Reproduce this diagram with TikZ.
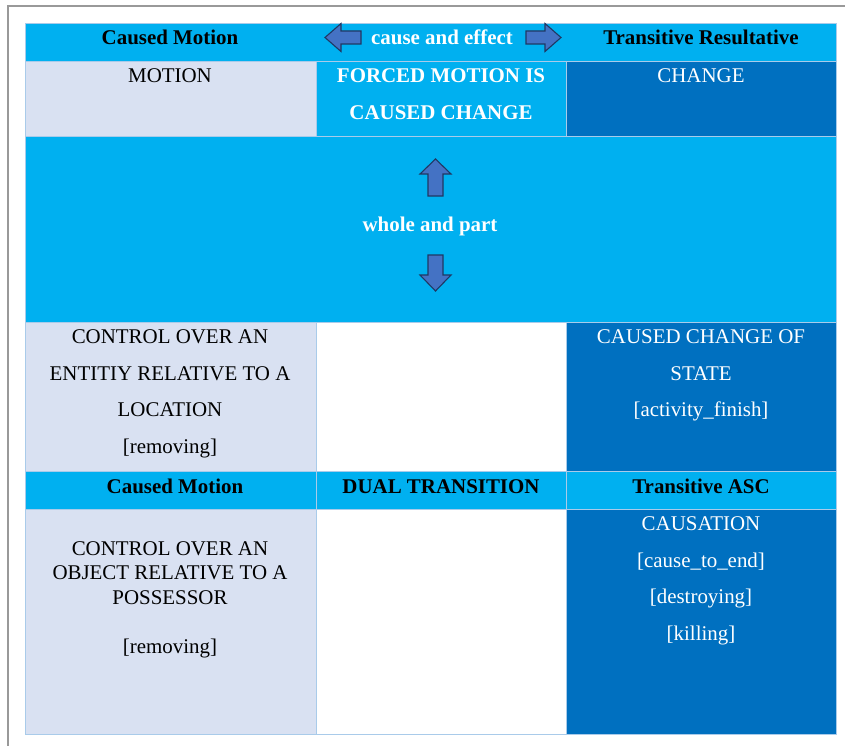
\documentclass[tikz,border=0pt]{standalone}
\usepackage{fontspec}
\setmainfont{Liberation Serif}
\definecolor{hdrblue}{HTML}{00B0F0}
\definecolor{paleblue}{HTML}{D9E1F2}
\definecolor{deepblue}{HTML}{0070C0}
\definecolor{gridline}{HTML}{A9CBEA}
\definecolor{arrowfill}{HTML}{4472C4}
\definecolor{arrowedge}{HTML}{203864}
\definecolor{framegray}{HTML}{999999}
% strut that fixes the top of the first text line 15bp above its baseline
\newcommand{\firstline}{\rule{0pt}{15bp}}
\tikzset{
  cell/.style={draw=gridline, line width=0.8bp},
  blockarrow/.style={fill=arrowfill, draw=arrowedge, line width=1.1bp, line join=miter},
  celltxt/.style={inner sep=0pt, anchor=north, align=center,
    font=\fontsize{21}{37}\selectfont},
  hdrtxt/.style={celltxt, font=\fontsize{21}{37}\selectfont\bfseries},
}
\begin{document}
\begin{tikzpicture}[x=1bp,y=-1bp]
\useasboundingbox (0,0) rectangle (845,746);
\fill[white] (0,0) rectangle (845,746);
% outer frame
\draw[framegray, line width=2.2bp] (8,746) -- (8,6) -- (845,6);

% --- cell backgrounds
% row 1: header band
\filldraw[cell, fill=hdrblue] (25,23) rectangle (836,61);
% row 2
\filldraw[cell, fill=paleblue] (25,61) rectangle (316,136);
\filldraw[cell, fill=hdrblue] (316,61) rectangle (566,136);
\filldraw[cell, fill=deepblue] (566,61) rectangle (836,136);
% row 3: merged band
\filldraw[cell, fill=hdrblue] (25,136) rectangle (836,322);
% row 4
\filldraw[cell, fill=paleblue] (25,322) rectangle (316,471);
\filldraw[cell, fill=white] (316,322) rectangle (566,471);
\filldraw[cell, fill=deepblue] (566,322) rectangle (836,471);
% row 5: headers
\filldraw[cell, fill=hdrblue] (25,471) rectangle (316,509);
\filldraw[cell, fill=hdrblue] (316,471) rectangle (566,509);
\filldraw[cell, fill=hdrblue] (566,471) rectangle (836,509);
% row 6
\filldraw[cell, fill=paleblue] (25,509) rectangle (316,734);
\filldraw[cell, fill=white] (316,509) rectangle (566,734);
\filldraw[cell, fill=deepblue] (566,509) rectangle (836,734);

% --- block arrows
\draw[blockarrow] (325,37.5) -- (341,23.5) -- (341,31) -- (361,31) -- (361,44)
  -- (341,44) -- (341,51.5) -- cycle;
\draw[blockarrow] (561,37.5) -- (545,23.5) -- (545,31) -- (526,31) -- (526,44)
  -- (545,44) -- (545,51.5) -- cycle;
\draw[blockarrow] (435.5,159) -- (451,174) -- (443,174) -- (443,196) -- (428,196)
  -- (428,174) -- (420,174) -- cycle;
\draw[blockarrow] (435.5,291) -- (451,275) -- (443,275) -- (443,255) -- (428,255)
  -- (428,275) -- (420,275) -- cycle;

% --- row 1
\node[hdrtxt] (cm1) at (170,29) {\firstline Caused Motion};
\node[hdrtxt, white] (cae) at (442,29) {\firstline cause and effect};
\node[hdrtxt] (tr1) at (701,29) {\firstline Transitive Resultative};
% --- row 2
\node[celltxt] (motion) at (170,67) {\firstline MOTION};
\node[hdrtxt, white] (forced) at (441,67) {\firstline FORCED MOTION IS\\CAUSED CHANGE};
\node[celltxt, white] (change) at (701,67) {\firstline CHANGE};
% --- row 3
\node[hdrtxt, white] (whole) at (430,216) {\firstline whole and part};
% --- row 4
\node[celltxt] (entity) at (170,328)
  {\firstline CONTROL OVER AN\\ENTITIY RELATIVE TO A\\LOCATION\\{[removing]}};
\node[celltxt, white] (state) at (701,328)
  {\firstline CAUSED CHANGE OF\\STATE\\{[activity\_finish]}};
% --- row 5
\node[hdrtxt] (cm2) at (175,478) {\firstline Caused Motion};
\node[hdrtxt] (dual) at (441,478) {\firstline DUAL TRANSITION};
\node[hdrtxt] (tasc) at (701,478) {\firstline Transitive ASC};
% --- row 6
\node[celltxt, font=\fontsize{21}{24.5}\selectfont] (object) at (170,540)
  {\firstline CONTROL OVER AN\\OBJECT RELATIVE TO A\\POSSESSOR\\[25.5bp]{[removing]}};
\node[celltxt, white] (causation) at (701,515)
  {\firstline CAUSATION\\{[cause\_to\_end]}\\{[destroying]}\\{[killing]}};
\end{tikzpicture}
\end{document}
